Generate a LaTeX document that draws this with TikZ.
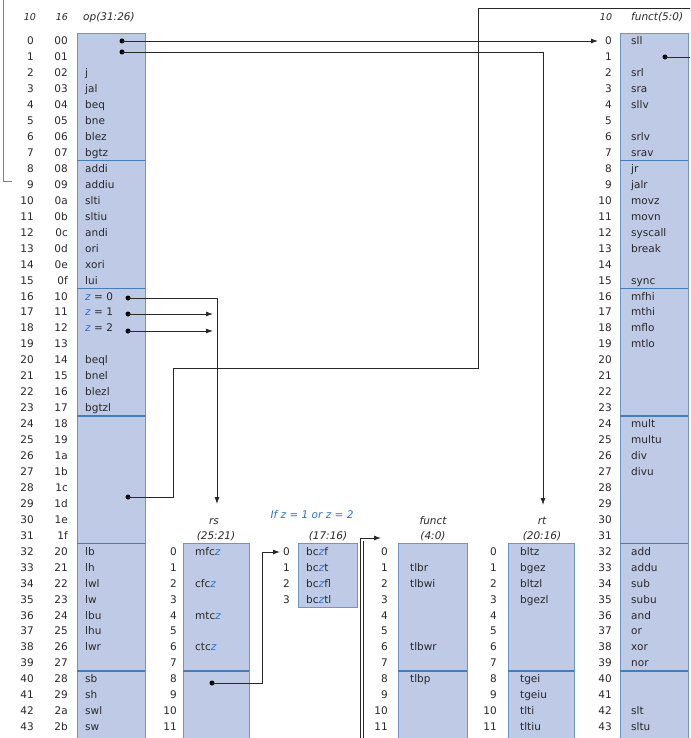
\documentclass[tikz,border=0pt]{standalone}
\usepackage{fontspec}
\setmainfont{DejaVu Sans}
\usetikzlibrary{arrows.meta}
\definecolor{boxfill}{RGB}{190,202,230}
\definecolor{boxline}{RGB}{110,148,200}
\definecolor{sepline}{RGB}{70,125,185}
\definecolor{zblue}{RGB}{40,115,200}
\definecolor{ink}{RGB}{40,40,40}
\newcommand\zz{\textcolor{zblue}{\textit{z}}}
\begin{document}
\begin{tikzpicture}[x=1pt,y=-1pt,
  txt/.style={font=\fontsize{10.5}{12}\selectfont, text=ink, inner sep=0pt},
  cell/.style={txt, anchor=base west},
  num/.style={txt, anchor=base east},
  hdr/.style={font=\fontsize{10.5}{12}\selectfont\itshape, text=ink, inner sep=0pt, anchor=base},
  hdrs/.style={hdr, font=\fontsize{9.5}{11}\selectfont\itshape},
  tbl/.style={fill=boxfill, draw=boxline, line width=0.8pt},
  sepl/.style={draw=sepline, line width=1.4pt},
  conn/.style={draw=ink, line width=0.9pt},
  arr/.style={conn, -{Latex[length=7pt,width=5pt]}},
  dot/.style={circle, fill=black, inner sep=0pt, minimum size=5pt}
]
\useasboundingbox (0,0) rectangle (690,738);
\clip (0,0) rectangle (690,738);

% ---------- tables ----------
\path[tbl] (77,33) rectangle (145,745);
\path[tbl] (620,33) rectangle (688,745);
\path[tbl] (183,543.4) rectangle (249,745);
\path[tbl] (298,543.4) rectangle (357,607.2);
\path[tbl] (398,543.4) rectangle (467,745);
\path[tbl] (508,543.4) rectangle (574,745);
\foreach \s in {7.5,15.5,23.5,31.5,39.5}{
  \pgfmathsetmacro\ys{41+15.95*\s}
  \draw[sepl] (77.4,\ys) -- (144.6,\ys);
  \draw[sepl] (620.4,\ys) -- (687.6,\ys);
}
\draw[sepl] (183.4,671) -- (248.6,671);
\draw[sepl] (398.4,671) -- (466.6,671);
\draw[sepl] (508.4,671) -- (573.6,671);

% ---------- headers ----------
\node[hdrs] (h10) at (30,20.5) {10};
\node[hdrs] (h16) at (62,20.5) {16};
\node[hdr, anchor=base west] (hop) at (83,20.5) {op(31:26)};
\node[hdrs] (hr10) at (606,20.5) {10};
\node[hdr, anchor=base west] (hfn) at (631,20.5) {funct(5:0)};
\node[hdr] (hrs) at (214,524.5) {rs};
\node[hdr] (hrs2) at (216,539.5) {(25:21)};
\node[hdr, text=zblue] (hifz) at (312,518.5) {If z = 1 or z = 2};
\node[hdr] (hbc) at (328,539.5) {(17:16)};
\node[hdr] (hfu) at (433,524.5) {funct};
\node[hdr] (hfu2) at (433,539.5) {(4:0)};
\node[hdr] (hrt) at (542,524.5) {rt};
\node[hdr] (hrt2) at (542,539.5) {(20:16)};

% ---------- row numbers ----------
\foreach \k in {0,...,43}{
  \pgfmathsetmacro\yb{41+15.95*\k+3.8}
  \node[num] (ldec\k) at (34,\yb) {\k};
  \node[num] (rdec\k) at (612,\yb) {\k};
}
\foreach \k/\h in {0/00,1/01,2/02,3/03,4/04,5/05,6/06,7/07,8/08,9/09,10/0a,11/0b,12/0c,13/0d,14/0e,15/0f,
  16/10,17/11,18/12,19/13,20/14,21/15,22/16,23/17,24/18,25/19,26/1a,27/1b,28/1c,29/1d,30/1e,31/1f,
  32/20,33/21,34/22,35/23,36/24,37/25,38/26,39/27,40/28,41/29,42/2a,43/2b}{
  \pgfmathsetmacro\yb{41+15.95*\k+3.8}
  \node[num] (lhex\k) at (68,\yb) {\h};
}
\foreach \j in {0,...,11}{
  \pgfmathsetmacro\yb{41+15.95*(\j+32)+3.8}
  \node[num] (rsn\j) at (177,\yb) {\j};
  \node[num] (fun\j) at (388,\yb) {\j};
  \node[num] (rtn\j) at (497,\yb) {\j};
}
\foreach \j in {0,...,3}{
  \pgfmathsetmacro\yb{41+15.95*(\j+32)+3.8}
  \node[num] (bcn\j) at (290,\yb) {\j};
}

% ---------- op names ----------
\foreach \k/\nm in {2/j,3/jal,4/beq,5/bne,6/blez,7/bgtz,8/addi,9/addiu,10/slti,11/sltiu,12/andi,13/ori,14/xori,15/lui,
  16/{\zz{} = 0},17/{\zz{} = 1},18/{\zz{} = 2},
  20/beql,21/bnel,22/blezl,23/bgtzl,32/lb,33/lh,34/lwl,35/lw,36/lbu,37/lhu,38/lwr,40/sb,41/sh,42/swl,43/sw}{
  \pgfmathsetmacro\yb{41+15.95*\k+3.8}
  \node[cell] (op\k) at (85,\yb) {\nm};
}
% ---------- funct(5:0) names ----------
\foreach \k/\nm in {0/sll,2/srl,3/sra,4/sllv,6/srlv,7/srav,8/jr,9/jalr,10/movz,11/movn,12/syscall,13/break,15/sync,
  16/mfhi,17/mthi,18/mflo,19/mtlo,24/mult,25/multu,26/div,27/divu,32/add,33/addu,34/sub,35/subu,36/and,37/or,38/xor,39/nor,42/slt,43/sltu}{
  \pgfmathsetmacro\yb{41+15.95*\k+3.8}
  \node[cell] (fn\k) at (631,\yb) {\nm};
}
% ---------- sub tables ----------
\foreach \j/\nm in {0/{mfc\zz},2/{cfc\zz},4/{mtc\zz},6/{ctc\zz}}{
  \pgfmathsetmacro\yb{41+15.95*(\j+32)+3.8}
  \node[cell] (rs\j) at (195,\yb) {\nm};
}
\foreach \j/\nm in {0/{bc\zz f},1/{bc\zz t},2/{bc\zz fl},3/{bc\zz tl}}{
  \pgfmathsetmacro\yb{41+15.95*(\j+32)+3.8}
  \node[cell] (bc\j) at (306,\yb) {\nm};
}
\foreach \j/\nm in {1/tlbr,2/tlbwi,6/tlbwr,8/tlbp}{
  \pgfmathsetmacro\yb{41+15.95*(\j+32)+3.8}
  \node[cell] (fu\j) at (410,\yb) {\nm};
}
\foreach \j/\nm in {0/bltz,1/bgez,2/bltzl,3/bgezl,8/tgei,9/tgeiu,10/tlti,11/tltiu}{
  \pgfmathsetmacro\yb{41+15.95*(\j+32)+3.8}
  \node[cell] (rt\j) at (520,\yb) {\nm};
}

% ---------- dots ----------
\node[dot] (d0) at (122,41) {};
\node[dot] (d1) at (122,52) {};
\node[dot] (dz0) at (128,298) {};
\node[dot] (dz1) at (128,314) {};
\node[dot] (dz2) at (128,331) {};
\node[dot] (d28) at (128,497) {};
\node[dot] (drs8) at (212,683) {};
\node[dot] (df1) at (665,57) {};

% ---------- connectors ----------
\coordinate (t0) at (598,41);
\coordinate (rtTip) at (543,505);
\coordinate (rsTip) at (217,504);
\coordinate (z1tip) at (213,314);
\coordinate (z2tip) at (213,331);
\coordinate (b1) at (173,368);
\coordinate (b2) at (478,8);
\coordinate (edge1) at (695,8);
\coordinate (k1) at (262,552);
\coordinate (bcTip) at (280,552);
\coordinate (edge2) at (695,57);
\coordinate (dbot) at (360,745);
\coordinate (dcorner) at (360,538);
\coordinate (fTip) at (381,538);
\coordinate (dbot2) at (363,745);
\coordinate (dtop2) at (363,541);
\coordinate (f1) at (3,-2);
\coordinate (f2) at (3,181);
\coordinate (f3) at (12,181);

\draw[arr] (d0.center) -- (t0);
\draw[arr] (d1.center) -| (rtTip);
\draw[arr] (dz0.center) -| (rsTip);
\draw[arr] (dz1.center) -- (z1tip);
\draw[arr] (dz2.center) -- (z2tip);
\draw[conn] (d28.center) -| (b1) -| (b2) -- (edge1);
\draw[arr] (drs8.center) -| (k1) -- (bcTip);
\draw[conn] (df1.center) -- (edge2);
\draw[arr] (dbot) -- (dcorner) -- (fTip);
\draw[conn] (dbot2) -- (dtop2);
\draw[draw=gray, line width=0.6pt] (f1) -- (f2) -- (f3);
\end{tikzpicture}
\end{document}
